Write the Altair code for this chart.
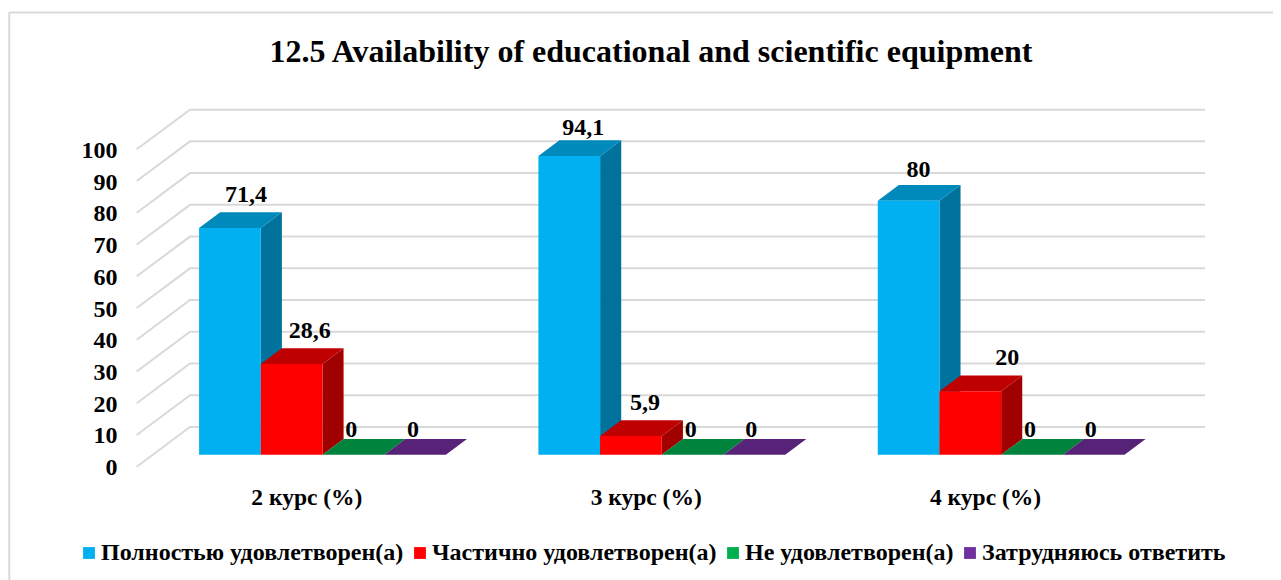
import altair as alt
import pandas as pd

courses = ["2 курс (%)", "3 курс (%)", "4 курс (%)"]
series = ["Полностью удовлетворен(а)", "Частично удовлетворен(а)", "Не удовлетворен(а)", "Затрудняюсь ответить"]
values = [
    [71.4, 28.6, 0, 0],
    [94.1, 5.9, 0, 0],
    [80, 20, 0, 0],
]
labels = [
    ["71,4", "28,6", "0", "0"],
    ["94,1", "5,9", "0", "0"],
    ["80", "20", "0", "0"],
]
# label nudges as placed by hand in the original (pixels)
nudge_x = [[16, 18, -2, -2], [14, 14, -2, -3], [10, 37, -2, -3]]
nudge_y = [[10, 10, 2, 2], [5, 10, 2, 2], [8, 11, 2, 2]]
front_colors = ["#00B0F0", "#FF0000", "#00B050", "#7030A0"]
side_colors = ["#00729C", "#A00000", "#00723A", "#491F68"]
top_colors = ["#0089BB", "#BF0000", "#00843D", "#562378"]
ticks = list(range(0, 101, 10))

FONT = "Liberation Serif"
W, H = 1264, 568
PX_X, PX_Y = 339.33, 3.174     # pixels per category, per percent
X0, Y0 = 136.7 - 9, 466.7 - 12  # where category 0 / value 0 fall inside the view
x_dom = [-X0 / PX_X, (W - X0) / PX_X]
y_dom = [(Y0 - H) / PX_Y, Y0 / PX_Y]

DEPTH_WALL, DEPTH_FRONT, DEPTH_BACK = 12.5, 3.78, 8.73
SHEAR = 53.3 / PX_X / DEPTH_WALL
BAR = 61.7 / PX_X

front, side, top, text = [], [], [], []
for i, course in enumerate(courses):
    for k, name in enumerate(series):
        v = values[i][k]
        left = i + 0.5 - 2 * BAR + k * BAR + DEPTH_FRONT * SHEAR
        right = left + BAR
        d = DEPTH_BACK - DEPTH_FRONT
        key = f"{i}-{k}"
        yf = v + DEPTH_FRONT
        yb = v + DEPTH_BACK
        if v > 0:
            front.append(dict(s=name, x=left, x2=right, y=DEPTH_FRONT, y2=yf))
            side.append(dict(key=key, c=side_colors[k], x=right, y=yf, y2=DEPTH_FRONT))
            side.append(dict(key=key, c=side_colors[k], x=right + d * SHEAR, y=yb, y2=DEPTH_BACK))
        top.append(dict(key=key, c=top_colors[k], y=yf, x=left, x2=right))
        top.append(dict(key=key, c=top_colors[k], y=yb, x=left + d * SHEAR, x2=right + d * SHEAR))
        text.append(dict(
            t=labels[i][k],
            x=(left + right) / 2 + nudge_x[i][k] / PX_X,
            y=yb + nudge_y[i][k] / PX_Y,
        ))

grid = []
for t in ticks:
    grid.append(dict(t=t, o=0, x=0, y=t))
    grid.append(dict(t=t, o=1, x=DEPTH_WALL * SHEAR, y=t + DEPTH_WALL))
    grid.append(dict(t=t, o=2, x=3 + DEPTH_WALL * SHEAR - 3 / PX_X, y=t + DEPTH_WALL))

xs = alt.Scale(domain=x_dom, nice=False, zero=False)
ys = alt.Scale(domain=y_dom, nice=False, zero=False)

axis_y = alt.Axis(
    values=ticks, title=None, domain=False, ticks=False, grid=False,
    labelFont=FONT, labelFontWeight="bold", labelFontSize=24, labelColor="#000000",
    labelPadding=0, offset=-108, labelOffset=1, labelBound=False, labelOverlap=False,
)
axis_x = alt.Axis(
    values=[0.5, 1.5, 2.5], title=None, domain=False, ticks=False, grid=False,
    labelExpr="['" + "','".join(courses) + "'][floor(datum.value)]",
    labelFont=FONT, labelFontWeight="bold", labelFontSize=23.5, labelColor="#000000",
    labelPadding=0, offset=-95, labelOverlap=False, labelBound=False,
)

X = alt.X("x:Q", scale=xs, axis=axis_x)
Y = alt.Y("y:Q", scale=ys, axis=axis_y)

frame_top = alt.Chart(pd.DataFrame({"x": [x_dom[0]], "x2": [x_dom[1]], "y": [y_dom[1] - 0.5 / PX_Y]})).mark_rule(
    color="#D9D9D9", strokeWidth=2, clip=False
).encode(x=X, x2="x2:Q", y=Y)
frame_left = alt.Chart(pd.DataFrame({"x": [x_dom[0] + 0.3 / PX_X], "y": [y_dom[0]], "y2": [y_dom[1]]})).mark_rule(
    color="#D9D9D9", strokeWidth=2, clip=False
).encode(x=X, y=Y, y2="y2:Q")

grid_layer = alt.Chart(pd.DataFrame(grid)).mark_line(
    color="#D9D9D9", strokeWidth=2, clip=False
).encode(x=X, y=Y, detail="t:N", order="o:Q")

side_layer = alt.Chart(pd.DataFrame(side)).mark_area(orient="vertical", clip=False).encode(
    x=X, y=Y.stack(None), y2="y2:Q",
    detail="key:N", color=alt.Color("c:N", scale=None, legend=None),
)
top_layer = alt.Chart(pd.DataFrame(top)).mark_area(orient="horizontal", clip=False).encode(
    y=Y, x=X.stack(None), x2="x2:Q",
    detail="key:N", color=alt.Color("c:N", scale=None, legend=None),
)
front_layer = alt.Chart(pd.DataFrame(front)).mark_rect(clip=False).encode(
    x=X, x2="x2:Q", y=Y, y2="y2:Q",
    fill=alt.Fill(
        "s:N",
        scale=alt.Scale(domain=series, range=front_colors),
        legend=alt.Legend(
            title=None, orient="none", direction="horizontal",
            legendX=68, legendY=529, symbolType="square", symbolSize=140,
            symbolStrokeWidth=0, labelFont=FONT, labelFontWeight="bold", labelFontSize=24,
            labelColor="#000000", columnPadding=4, labelOffset=0, labelLimit=400,
            values=series,
        ),
    ),
)
text_layer = alt.Chart(pd.DataFrame(text)).mark_text(
    font=FONT, fontWeight="bold", fontSize=24, color="#000000", baseline="alphabetic", clip=False
).encode(x=X, y=Y, text="t:N")

chart = (
    alt.layer(frame_top, frame_left, grid_layer, side_layer, top_layer, front_layer, text_layer)
    .resolve_scale(fill="shared")
    .properties(
        width=W, height=H,
        padding={"left": 1, "top": 4, "right": 0, "bottom": 0},
        autosize=alt.AutoSizeParams(type="none"),
        background="#FFFFFF",
        title=alt.TitleParams(
            "12.5 Availability of educational and scientific equipment",
            font=FONT, fontWeight="bold", fontSize=32, color="#000000",
            anchor="middle", dx=10, offset=-58,
        ),
    )
    .configure_view(stroke=None)
)

chart.save("out.html", embed_options={"renderer": "svg", "actions": False})
